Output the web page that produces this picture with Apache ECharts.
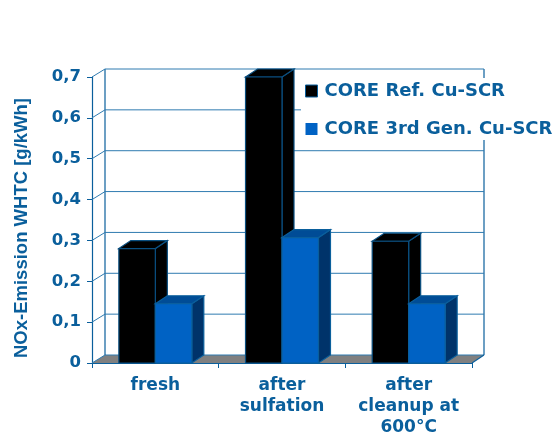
<!DOCTYPE html>
<html>
<head>
<meta charset="utf-8">
<style>html,body{margin:0;padding:0;background:#fff}#c{width:555px;height:433px}</style>
<script src="https://cdn.jsdelivr.net/npm/echarts@6/dist/echarts.min.js"></script>
</head>
<body>
<div id="c"></div>
<script>
const categories = ['fresh', 'after\nsulfation', 'after\ncleanup at\n600°C'];
const refValues = [0.28, 0.70, 0.298];
const genValues = [0.145, 0.307, 0.145];
const yTicks = [0, 0.1, 0.2, 0.3, 0.4, 0.5, 0.6, 0.7];
const seriesNames = ['CORE Ref. Cu-SCR', 'CORE 3rd Gen. Cu-SCR'];
const yAxisTitle = 'NOx-Emission WHTC [g/kWh]';

const INK = '#0a5f9c';
const DX = 13, DY = -8;
const FONT = '"DejaVu Sans"';

function wallItem(params, api) {
  const v = api.value(0);
  const xs = params.coordSys;
  const y = api.coord([0, v])[1];
  const x0 = xs.x, x1 = xs.x + xs.width;
  const children = [];
  const st = {stroke: '#2f7bb0', lineWidth: 1, fill: null};
  children.push({type: 'polyline', shape: {points: [[x0, y], [x0 + DX, y + DY], [x1 + DX - 1, y + DY]]}, style: st});
  if (v === yTicks[0]) {
    children.unshift({type: 'polygon', shape: {points: [[x0, y], [x1, y], [x1 + DX - 1, y + DY], [x0 + DX, y + DY]]},
      style: {fill: '#808080', stroke: null}});
    const top = api.coord([0, yTicks[yTicks.length - 1]])[1];
    const edge = {stroke: INK, lineWidth: 1.2, fill: null};
    children.push({type: 'line', shape: {x1: x0 + DX, y1: y + DY, x2: x0 + DX, y2: top + DY}, style: edge});
    children.push({type: 'line', shape: {x1: x1 + DX - 1, y1: y + DY, x2: x1 + DX - 1, y2: top + DY}, style: edge});
    children.push({type: 'line', shape: {x1: x1, y1: y, x2: x1 + DX - 1, y2: y + DY}, style: edge});
  }
  return {type: 'group', children};
}

function barRenderer(front, top, side, stroke, dir) {
  return function (params, api) {
    const cat = api.value(0), val = api.value(1);
    const band = api.size([1, 0])[0];
    const w = band * 0.288;
    const c = api.coord([cat, val]);
    const base = api.coord([cat, 0])[1];
    const xL = dir < 0 ? c[0] - w : c[0];
    const xR = xL + w;
    const yT = c[1];
    const line = {stroke: stroke, lineWidth: 1.2};
    return {type: 'group', children: [
      {type: 'polygon', shape: {points: [[xR, yT], [xR + DX - 1, yT + DY], [xR + DX - 1, base + DY], [xR, base]]},
        style: Object.assign({fill: side}, line)},
      {type: 'polygon', shape: {points: [[xL, yT], [xL + DX - 1, yT + DY], [xR + DX - 1, yT + DY], [xR, yT]]},
        style: Object.assign({fill: top}, line)},
      {type: 'rect', shape: {x: xL, y: yT, width: w, height: base - yT},
        style: Object.assign({fill: front}, line)}
    ]};
  };
}

const chart = echarts.init(document.getElementById('c'), null, {renderer: 'canvas'});
chart.setOption({
  animation: false,
  backgroundColor: '#fff',
  grid: {left: 92, right: 83, top: 77, bottom: 70, outerBoundsMode: 'none'},
  legend: {
    left: 301, top: 78, orient: 'vertical',
    backgroundColor: '#fff',
    padding: [4, 0, 2, 4],
    itemWidth: 12, itemHeight: 12, itemGap: 20,
    data: [
      {name: seriesNames[0], icon: 'rect', itemStyle: {color: '#000', borderColor: INK, borderWidth: 1}},
      {name: seriesNames[1], icon: 'rect', itemStyle: {color: '#0062c4', borderColor: '#0062c4', borderWidth: 0}}
    ],
    textStyle: {color: INK, fontFamily: FONT, fontWeight: 'bold', fontSize: 18, padding: [0, 0, 0, 2]},
    z: 20
  },
  xAxis: {
    type: 'category', data: categories,
    axisLine: {lineStyle: {color: INK, width: 1.2}},
    axisTick: {show: true, length: 5, lineStyle: {color: INK}},
    axisLabel: {color: INK, fontFamily: FONT, fontWeight: 'bold', fontSize: 17, lineHeight: 21, margin: 12, interval: 0},
    splitLine: {show: false}
  },
  yAxis: {
    type: 'value', min: 0, max: 0.7, interval: 0.1,
    name: yAxisTitle, nameLocation: 'middle', nameRotate: 90, nameGap: 61,
    nameTextStyle: {color: INK, fontFamily: '"Liberation Sans"', fontWeight: 'bold', fontSize: 18.5, padding: [0, 16, 0, 0]},
    axisLine: {show: true, lineStyle: {color: INK, width: 1.2}},
    axisTick: {show: true, length: 5, lineStyle: {color: INK}},
    axisLabel: {color: INK, fontFamily: FONT, fontWeight: 'bold', fontSize: 16.5, margin: 11,
      formatter: v => v === 0 ? '0' : v.toFixed(1).replace('.', ',')},
    splitLine: {show: false}
  },
  series: [
    {type: 'custom', name: '_wall', silent: true, z: 1, clip: false, renderItem: wallItem,
      data: yTicks.map(v => [v]), encode: {y: 0}},
    {type: 'custom', name: seriesNames[0], z: 3, clip: false, itemStyle: {color: '#000'},
      renderItem: barRenderer('#000', '#000', '#000', '#0a4f80', -1),
      data: refValues.map((v, i) => [i, v]), encode: {x: 0, y: 1}},
    {type: 'custom', name: seriesNames[1], z: 4, clip: false, itemStyle: {color: '#0062c4'},
      renderItem: barRenderer('#0062c4', '#004c96', '#00336a', INK, 1),
      data: genValues.map((v, i) => [i, v]), encode: {x: 0, y: 1}}
  ]
});
</script>
</body>
</html>
